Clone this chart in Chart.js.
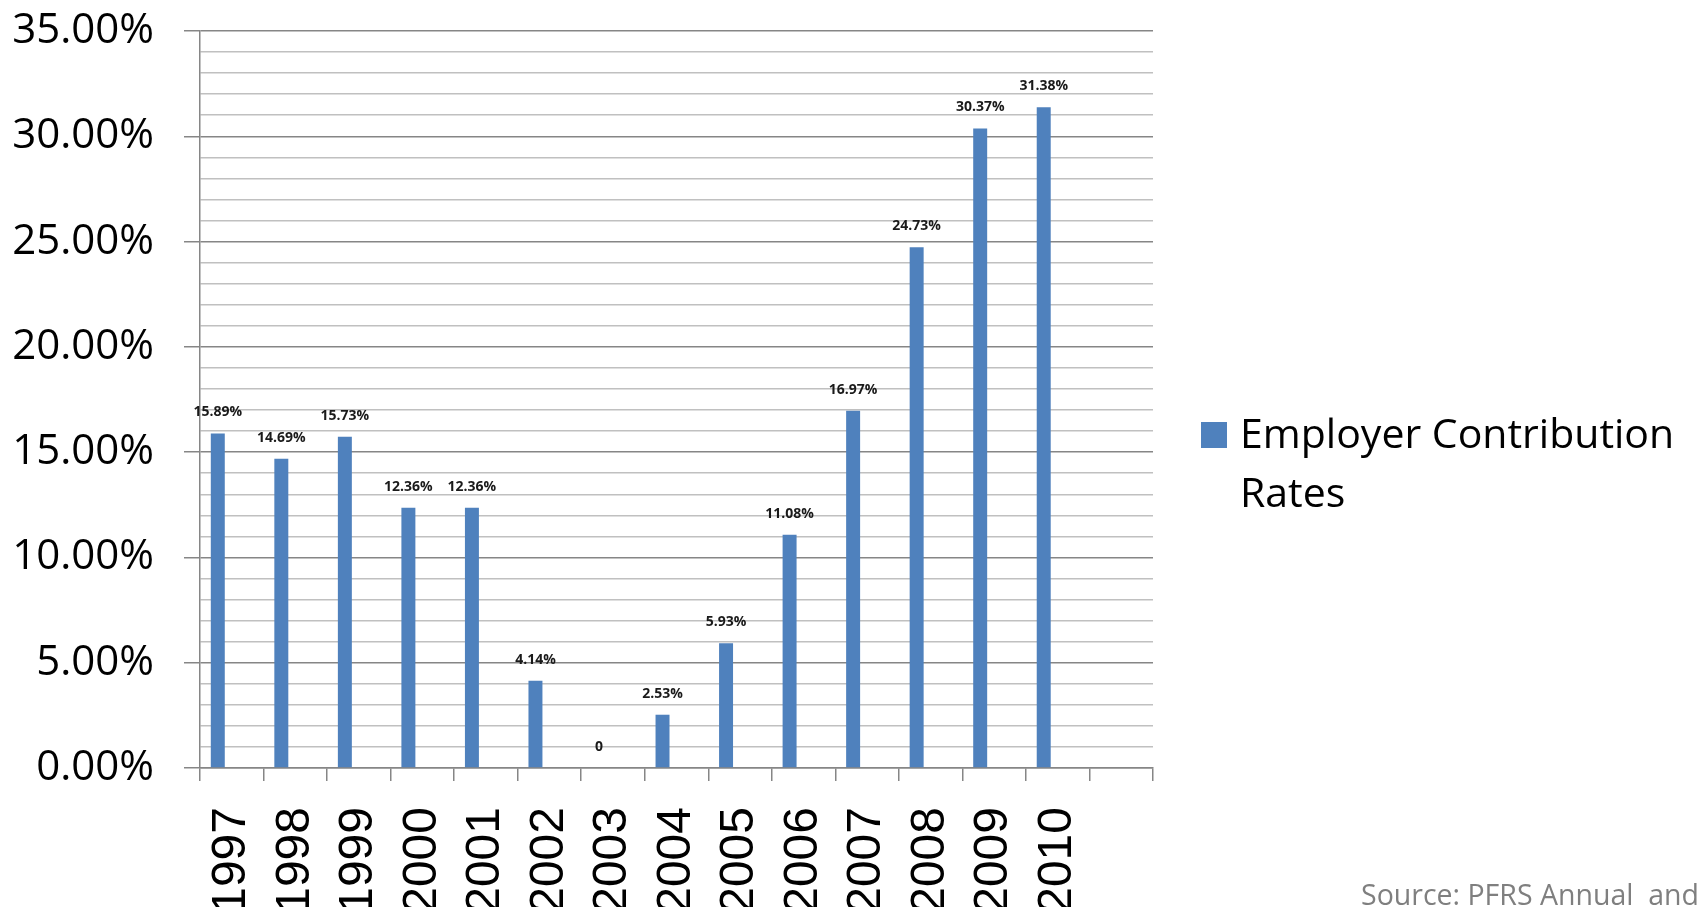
<!DOCTYPE html>
<html>
<head>
<meta charset="utf-8">
<script src="https://cdn.jsdelivr.net/npm/chart.js@4.4.1/dist/chart.umd.min.js"></script>
<style>
  html, body { margin: 0; padding: 0; background: #fff; }
  #wrap { width: 1698px; height: 907px; position: relative; }
</style>
</head>
<body>
<div id="wrap"><canvas id="myChart" width="1698" height="907"></canvas></div>
<script>
// Chart data
const years = ['1997', '1998', '1999', '2000', '2001', '2002', '2003', '2004', '2005', '2006', '2007', '2008', '2009', '2010', ''];
const rates = [15.89, 14.69, 15.73, 12.36, 12.36, 4.14, 0, 2.53, 5.93, 11.08, 16.97, 24.73, 30.37, 31.38, null];
// empty second series (the original chart keeps a blank slot next to each bar)
const blankSeries = [null, null, null, null, null, null, null, null, null, null, null, null, null, null, null];
const seriesName = 'Employer Contribution Rates';
const legendLines = ['Employer Contribution', 'Rates'];
const sourceNote = 'Source: PFRS Annual  and';

const barColor = '#4F81BD';

// value labels above the bars
const valueLabels = {
  id: 'valueLabels',
  afterDatasetsDraw(chart) {
    const ctx = chart.ctx;
    const meta = chart.getDatasetMeta(0);
    ctx.save();
    ctx.font = 'bold 14px "Open Sans"';
    ctx.fillStyle = '#1a1a1a';
    ctx.textAlign = 'center';
    ctx.textBaseline = 'middle';
    meta.data.forEach((bar, i) => {
      const v = rates[i];
      if (v === null) return;
      const txt = v === 0 ? '0' : v.toFixed(2) + '%';
      ctx.fillText(txt, bar.x, bar.y - 21);
    });
    ctx.restore();
  }
};

// legend on the right and the source note
const sideText = {
  id: 'sideText',
  afterDraw(chart) {
    const ctx = chart.ctx;
    ctx.save();
    ctx.fillStyle = barColor;
    ctx.fillRect(1201, 422, 26, 26);
    ctx.fillStyle = '#000';
    ctx.font = '41px "Open Sans"';
    ctx.textAlign = 'left';
    ctx.textBaseline = 'alphabetic';
    ctx.fillText(legendLines[0], 1240, 448);
    ctx.fillText(legendLines[1], 1240, 507);
    ctx.fillStyle = '#7f7f7f';
    ctx.font = '28.5px "Open Sans"';
    ctx.fillText(sourceNote, 1361, 905);
    ctx.restore();
  }
};

const ctx = document.getElementById('myChart').getContext('2d');
new Chart(ctx, {
  type: 'bar',
  data: {
    labels: years,
    datasets: [{
      label: seriesName,
      data: rates,
      backgroundColor: barColor,
      categoryPercentage: 0.88,
      barPercentage: 0.5
    }, {
      label: '',
      data: blankSeries,
      backgroundColor: barColor,
      categoryPercentage: 0.88,
      barPercentage: 0.5
    }]
  },
  options: {
    responsive: false,
    animation: false,
    layout: {
      padding: { top: 31, right: 545, bottom: 0, left: 0 }
    },
    scales: {
      x: {
        afterFit: (scale) => { scale.height = 139; },
        grid: {
          offset: true,
          drawOnChartArea: false,
          drawTicks: true,
          tickLength: 13,
          color: '#868686',
          lineWidth: 1.5
        },
        border: { color: '#868686', width: 1.5 },
        ticks: {
          autoSkip: false,
          minRotation: 90,
          maxRotation: 90,
          padding: 26,
          color: '#000',
          font: { family: '"Liberation Sans"', size: 48 }
        }
      },
      y: {
        min: 0,
        max: 35,
        afterFit: (scale) => {
          scale.width = 200;
          scale.paddingTop = 0;
          scale.paddingBottom = 0;
        },
        grid: {
          color: (c) => (c.tick && c.tick.value % 5 === 0) ? '#868686' : '#c0c0c0',
          tickColor: (c) => (c.tick && c.tick.value % 5 === 0) ? '#868686' : 'rgba(0,0,0,0)',
          lineWidth: 1.5,
          tickLength: 16
        },
        border: { color: '#868686', width: 1.5 },
        ticks: {
          stepSize: 1,
          autoSkip: false,
          padding: 30,
          color: '#000',
          font: { family: '"Open Sans"', size: 42 },
          callback: (v) => v % 5 === 0 ? v.toFixed(2) + '%' : ''
        }
      }
    },
    plugins: {
      legend: { display: false },
      tooltip: { enabled: false }
    }
  },
  plugins: [valueLabels, sideText]
});
</script>
</body>
</html>
